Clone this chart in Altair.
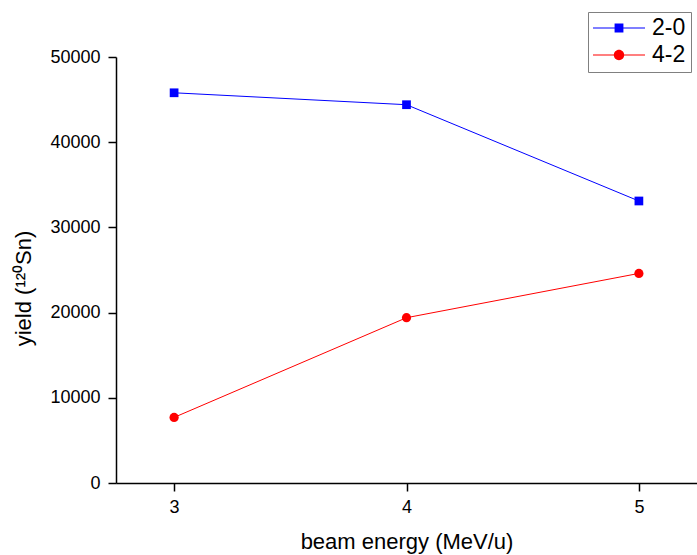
import altair as alt
import pandas as pd

# ---- data ----
energy = [3, 4, 5]
yield_2_0 = [45800, 44400, 33100]
yield_4_2 = [7700, 19400, 24600]
series = ["2-0", "4-2"]
colors = ["#0000ff", "#ff0000"]
x_ticks = [3, 4, 5]
y_ticks = [0, 10000, 20000, 30000, 40000, 50000]

df = pd.DataFrame({
    "energy": energy + energy,
    "yield": yield_2_0 + yield_4_2,
    "series": [series[0]] * len(energy) + [series[1]] * len(energy),
})

FONT = "Liberation Sans"

# legend symbols: a thin line with a marker on it (custom SVG paths)
sq_path = "M-1,-0.02H1V0.02H-1Z M-0.17,-0.17H0.17V0.17H-0.17Z"
ci_path = "M-1,-0.02H1V0.02H-1Z M-0.2,0A0.2,0.2,0,1,1,0.2,0A0.2,0.2,0,1,1,-0.2,0Z"

color_scale = alt.Scale(domain=series, range=colors)

x_enc = alt.X(
    "energy:Q",
    scale=alt.Scale(domain=[2.75, 5.25], nice=False, zero=False),
    axis=alt.Axis(values=x_ticks, format="d", title="beam energy (MeV/u)",
                  labelPadding=7, titlePadding=15),
)
y_enc = alt.Y(
    "yield:Q",
    scale=alt.Scale(domain=[0, 50000], nice=False),
    axis=alt.Axis(values=y_ticks, format="d", title="yield (¹²⁰Sn)",
                  labelPadding=8, titleX=-81, titleY=231),
)

base = alt.Chart(df)

lines = base.mark_line(strokeWidth=1).encode(
    x=x_enc, y=y_enc,
    color=alt.Color("series:N", scale=color_scale, legend=None),
)

squares = base.transform_filter(alt.datum.series == series[0]).mark_point(
    shape="square", filled=True, size=76, opacity=1
).encode(
    x=x_enc, y=y_enc,
    color=alt.Color("series:N", scale=color_scale, legend=None),
)

circles = base.transform_filter(alt.datum.series == series[1]).mark_point(
    shape="circle", filled=True, size=85, opacity=1
).encode(
    x=x_enc, y=y_enc,
    color=alt.Color("series:N", scale=color_scale, legend=None),
)

leg = alt.Legend(
    title=None, orient="none", legendX=472, legendY=-45,
    strokeColor="#808080", fillColor="white", padding=5,
    symbolSize=2704, symbolOpacity=1, symbolStrokeWidth=0, clipHeight=22,
    labelFont=FONT, labelFontSize=23, labelColor="black", labelOffset=7,
    rowPadding=4,
)

legend_layer = base.mark_point(filled=True, opacity=0).encode(
    x=x_enc, y=y_enc,
    color=alt.Color("series:N", scale=color_scale, legend=leg),
    shape=alt.Shape("series:N", scale=alt.Scale(domain=series, range=[sq_path, ci_path]), legend=leg),
)

chart = alt.layer(lines, squares, circles, legend_layer).resolve_scale(
    color="independent", shape="independent"
).properties(
    width=581, height=426,
    padding={"left": 116, "top": 57, "right": 0, "bottom": 72},
    autosize=alt.AutoSizeParams(type="none"),
).configure_view(
    stroke=None
).configure_axis(
    domainColor="black", domainWidth=1.5, tickColor="black", tickWidth=1.5,
    tickSize=8, labelFont=FONT, labelFontSize=18, labelColor="black",
    titleFont=FONT, titleFontSize=22, titleFontWeight="normal", titleColor="black",
    grid=False,
)

chart.save("out.html", embed_options={"renderer": "svg", "actions": False})
